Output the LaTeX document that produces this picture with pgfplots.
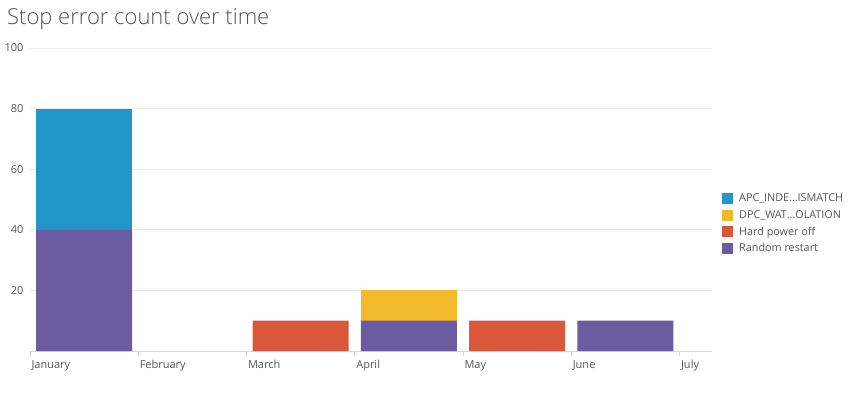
\documentclass[border=0pt]{standalone}
\usepackage{fontspec}
\setmainfont{Open Sans}
\newfontfamily\titlefont{Open Sans Light}
\usepackage{pgfplots}
\pgfplotsset{compat=1.18}
\definecolor{cblue}{HTML}{2196C9}
\definecolor{cyellow}{HTML}{F2B92B}
\definecolor{cred}{HTML}{D9573B}
\definecolor{cpurple}{HTML}{6B5BA0}
\definecolor{ctext}{HTML}{555555}
\definecolor{cgrid}{HTML}{EBEBEB}
\definecolor{caxis}{HTML}{D8D8D8}
\begin{document}
\begin{tikzpicture}[x=1pt,y=1pt]
\path[use as bounding box] (0,0) rectangle (854,392);
\node[anchor=base west, text=ctext, font=\titlefont\fontsize{22}{26}\selectfont, inner sep=0pt] at (7,367) {Stop error count over time};
\begin{axis}[
  at={(30pt,41pt)}, anchor=origin,
  scale only axis, width=682pt, height=303pt,
  xmin=0, xmax=6.3, ymin=0, ymax=100,
  ybar stacked, bar width=96pt,
  axis lines*=left,
  y axis line style={draw=none},
  x axis line style={caxis, line width=1pt, -},
  xtick={0,1,2,3,4,5,6},
  xticklabels={January,February,March,April,May,June,July},
  xtick style={caxis, line width=0.8pt},
  ytick style={draw=none},
  major tick length=5pt, tick align=outside,
  xticklabel style={anchor=north west, xshift=-2pt, yshift=-1pt, text=ctext, font=\fontsize{11}{13}\selectfont},
  ytick={20,40,60,80,100},
  ymajorgrids, grid style={cgrid, line width=0.8pt},
  yticklabel style={text=ctext, font=\fontsize{11}{13}\selectfont, xshift=2pt},
  /pgf/number format/assume math mode=true,
  reverse legend,
  legend style={at={(1.0147,0.525)}, anchor=north west, draw=none, fill=none,
    font=\fontsize{10.8}{12}\selectfont, text=ctext, row sep=3pt, inner sep=0pt,
    nodes={inner xsep=6pt}},
  legend cell align=left,
  legend image code/.code={\fill[#1,draw=none] (0pt,-5.5pt) rectangle (11pt,5.5pt);},
  clip=false,
]
\addplot[fill=cpurple, draw=none] coordinates {(0.5,40) (1.5,0) (2.5,0) (3.5,10) (4.5,0) (5.5,10)};
\addlegendentry{Random restart}
\addplot[fill=cred, draw=none] coordinates {(0.5,0) (1.5,0) (2.5,10) (3.5,0) (4.5,10) (5.5,0)};
\addlegendentry{Hard power off}
\addplot[fill=cyellow, draw=none] coordinates {(0.5,0) (1.5,0) (2.5,0) (3.5,10) (4.5,0) (5.5,0)};
\addlegendentry{DPC\_WAT\ldots OLATION}
\addplot[fill=cblue, draw=none] coordinates {(0.5,40) (1.5,0) (2.5,0) (3.5,0) (4.5,0) (5.5,0)};
\addlegendentry{APC\_INDE\ldots ISMATCH}
\end{axis}
\end{tikzpicture}
\end{document}
